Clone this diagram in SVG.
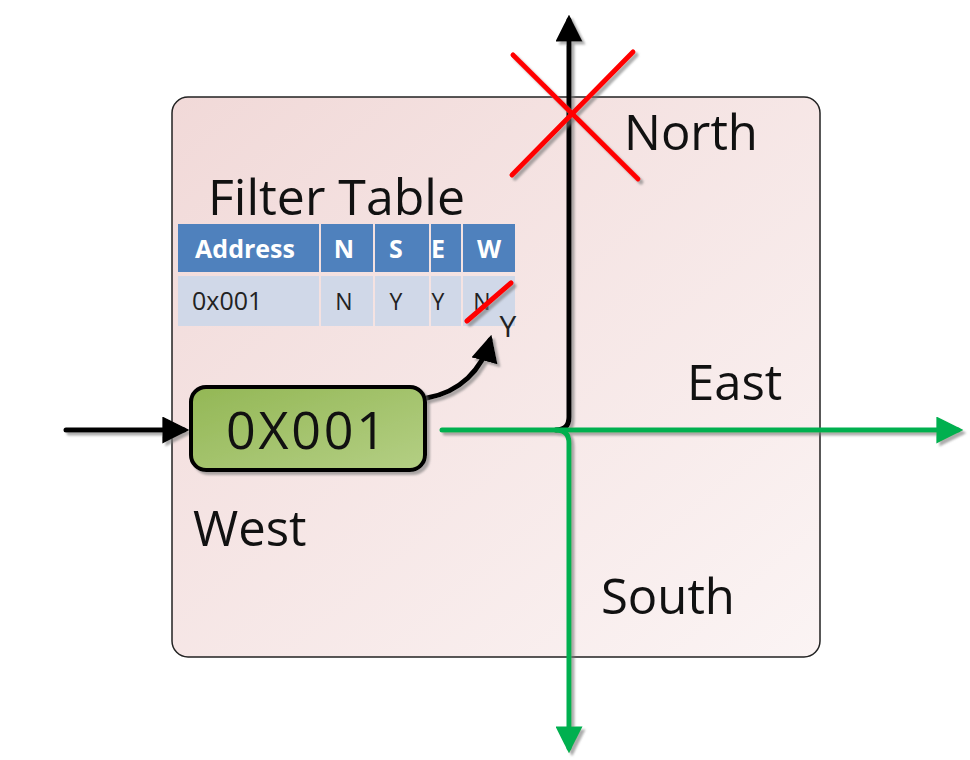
<svg xmlns="http://www.w3.org/2000/svg" width="970" height="760" viewBox="0 0 970 760">
  <style>
    .lbl { font-family: "Open Sans", "Liberation Sans", sans-serif; font-size: 49px; fill: #111; }
    .hdr { font-family: "Open Sans", "Liberation Sans", sans-serif; font-size: 25px; font-weight: bold; fill: #fff; text-anchor: middle; }
    .cell { font-family: "Open Sans", "Liberation Sans", sans-serif; font-size: 23px; fill: #222; text-anchor: middle; }
    .blk { fill: none; stroke: #000; stroke-width: 5; stroke-linecap: round; }
    .grn { fill: none; stroke: #00b050; stroke-width: 5; stroke-linecap: round; }
    .red { stroke: #ff0000; stroke-width: 5; stroke-linecap: round; }
  </style>
  <defs>
    <linearGradient id="boxFill" x1="0" y1="0" x2="1" y2="1">
      <stop offset="0" stop-color="#f1d9d8"/>
      <stop offset="1" stop-color="#fbf4f4"/>
    </linearGradient>
    <linearGradient id="nodeFill" x1="0" y1="0" x2="1" y2="1">
      <stop offset="0" stop-color="#93b755"/>
      <stop offset="1" stop-color="#b4cf84"/>
    </linearGradient>
    <filter id="shadow" x="-10%" y="-10%" width="130%" height="130%">
      <feDropShadow dx="3" dy="3" stdDeviation="1.2" flood-color="#777" flood-opacity="0.6"/>
    </filter>
    <marker id="arrBlk" viewBox="0 0 10 10" refX="8" refY="5" markerWidth="5.4" markerHeight="5.4" orient="auto" markerUnits="strokeWidth">
      <path d="M0,0 L10,5 L0,10 Z" fill="#000"/>
    </marker>
    <marker id="arrGrn" viewBox="0 0 10 10" refX="8" refY="5" markerWidth="5.4" markerHeight="5.4" orient="auto" markerUnits="strokeWidth">
      <path d="M0,0 L10,5 L0,10 Z" fill="#00b050"/>
    </marker>
  </defs>

  <!-- router outline -->
  <g id="router">
    <rect x="172" y="97" width="648" height="560" rx="16" fill="url(#boxFill)" stroke="#222" stroke-width="1.5"/>
  </g>

  <!-- filter table -->
  <g id="filter-table">
    <text class="lbl" x="208" y="215" style="font-size:50px">Filter Table</text>
    <g fill="#4f81bd">
      <rect x="178" y="224" width="141" height="48"/>
      <rect x="321" y="224" width="52" height="48"/>
      <rect x="375" y="224" width="54" height="48"/>
      <rect x="431" y="224" width="30" height="48"/>
      <rect x="463" y="224" width="52" height="48"/>
    </g>
    <g fill="#d0d8e8">
      <rect x="178" y="276" width="141" height="50"/>
      <rect x="321" y="276" width="52" height="50"/>
      <rect x="375" y="276" width="54" height="50"/>
      <rect x="431" y="276" width="30" height="50"/>
      <rect x="463" y="276" width="52" height="50"/>
    </g>
    <text class="hdr" x="245" y="258">Address</text>
    <text class="hdr" x="344" y="258">N</text>
    <text class="hdr" x="396" y="258">S</text>
    <text class="hdr" x="438" y="258">E</text>
    <text class="hdr" x="489" y="258">W</text>
    <text class="cell" x="192" y="310" style="font-size:25px;text-anchor:start">0x001</text>
    <text class="cell" x="344" y="310">N</text>
    <text class="cell" x="396" y="310">Y</text>
    <text class="cell" x="438" y="310">Y</text>
    <text class="cell" x="482" y="310">N</text>
    <line x1="467" y1="321" x2="511" y2="283" class="red" stroke-width="3" filter="url(#shadow)"/>
    <text class="cell" x="508" y="337" style="font-size:30px">Y</text>
  </g>

  <!-- port labels -->
  <g id="north"><text class="lbl" x="624" y="150">North</text></g>
  <g id="east"><text class="lbl" x="687" y="400">East</text></g>
  <g id="west"><text class="lbl" x="193" y="546">West</text></g>
  <g id="south"><text class="lbl" x="601" y="614">South</text></g>

  <!-- connectors -->
  <g id="connectors" filter="url(#shadow)">
    <line x1="66" y1="430" x2="184" y2="430" class="blk" stroke-width="4.5" marker-end="url(#arrBlk)"/>
    <path d="M427,398 C460,392 482,370 490,340" class="blk" stroke-width="4.5" marker-end="url(#arrBlk)"/>
    <path d="M556,430 Q569,430 569,417 L569,20" class="blk" marker-end="url(#arrBlk)"/>
    <path d="M442,430 L958,430" class="grn" marker-end="url(#arrGrn)"/>
    <path d="M556,430 Q569,430 569,443 L569,748" class="grn" marker-end="url(#arrGrn)"/>
  </g>

  <!-- blocked north port -->
  <g id="north-blocked" filter="url(#shadow)">
    <line x1="513" y1="55" x2="638" y2="179" class="red"/>
    <line x1="633" y1="52" x2="512" y2="175" class="red"/>
  </g>

  <!-- incoming packet -->
  <g id="packet">
    <rect x="191" y="387" width="234" height="83" rx="15" fill="url(#nodeFill)" stroke="#000" stroke-width="4" filter="url(#shadow)"/>
    <text class="lbl" x="306" y="449" style="font-size:52px" text-anchor="middle" textLength="160">0X001</text>
  </g>
</svg>
